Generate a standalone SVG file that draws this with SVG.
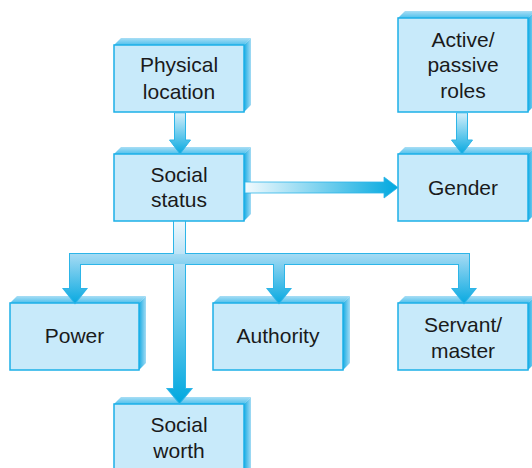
<svg xmlns="http://www.w3.org/2000/svg" width="532" height="468" viewBox="0 0 532 468">
<defs>
<linearGradient id="gTop" x1="0" y1="1" x2="0" y2="0"><stop offset="0" stop-color="#4fc0ec"/><stop offset="1" stop-color="#a9def5"/></linearGradient>
<linearGradient id="gSide" x1="0" y1="0" x2="1" y2="0"><stop offset="0" stop-color="#19ace3"/><stop offset="1" stop-color="#a3dbf4"/></linearGradient>
<linearGradient id="gV1" gradientUnits="userSpaceOnUse" x1="0" y1="112" x2="0" y2="154"><stop offset="0" stop-color="#d8f0fb"/><stop offset="1" stop-color="#08a9e0"/></linearGradient>
<linearGradient id="gH" gradientUnits="userSpaceOnUse" x1="245" y1="0" x2="398" y2="0"><stop offset="0" stop-color="#f2fafe"/><stop offset="1" stop-color="#00a8df"/></linearGradient>
<linearGradient id="gTrunk" gradientUnits="userSpaceOnUse" x1="0" y1="221" x2="0" y2="403"><stop offset="0" stop-color="#eef8fd"/><stop offset="0.2" stop-color="#b8e2f6"/><stop offset="1" stop-color="#00a8df"/></linearGradient>
<linearGradient id="gBr" gradientUnits="userSpaceOnUse" x1="0" y1="254" x2="0" y2="303"><stop offset="0" stop-color="#a6dbf4"/><stop offset="1" stop-color="#0aaae1"/></linearGradient>
<style>
.front{fill:#c8eafa;stroke:#1db0e7;stroke-width:1.5}
.top{fill:url(#gTop)}
.side{fill:url(#gSide)}
.t{font-family:"Liberation Sans",Arial,sans-serif;font-size:21px;fill:#1a1a1a;text-anchor:middle}
.cs{stroke:#2db5e8;stroke-width:2;stroke-linejoin:miter}
</style>
</defs>

<g id="physical-location">
<polygon class="top" points="114,45 121,38 251,38 244,45"/>
<polygon class="side" points="244,45 251,38 251,105 244,112"/>
<rect class="front" x="114" y="45" width="130" height="67"/>
<text class="t" x="179" y="72">Physical</text>
<text class="t" x="179" y="99">location</text>
</g>

<g id="social-status">
<polygon class="top" points="114,154 121,147 251,147 244,154"/>
<polygon class="side" points="244,154 251,147 251,214 244,221"/>
<rect class="front" x="114" y="154" width="130" height="67"/>
<text class="t" x="179" y="182">Social</text>
<text class="t" x="179" y="207">status</text>
</g>

<g id="active-passive-roles">
<polygon class="top" points="398,18 405,11 535,11 528,18"/>
<polygon class="side" points="528,18 535,11 535,105 528,112"/>
<rect class="front" x="398" y="18" width="130" height="94"/>
<text class="t" x="463" y="47">Active/</text>
<text class="t" x="463" y="72">passive</text>
<text class="t" x="463" y="98">roles</text>
</g>

<g id="gender">
<polygon class="top" points="398,154 405,147 535,147 528,154"/>
<polygon class="side" points="528,154 535,147 535,214 528,221"/>
<rect class="front" x="398" y="154" width="130" height="67"/>
<text class="t" x="463" y="195">Gender</text>
</g>

<g id="power">
<polygon class="top" points="10,303 17,296 146,296 139,303"/>
<polygon class="side" points="139,303 146,296 146,363 139,370"/>
<rect class="front" x="10" y="303" width="129" height="67"/>
<text class="t" x="74.5" y="343">Power</text>
</g>

<g id="authority">
<polygon class="top" points="213,303 220,296 350,296 343,303"/>
<polygon class="side" points="343,303 350,296 350,363 343,370"/>
<rect class="front" x="213" y="303" width="130" height="67"/>
<text class="t" x="278" y="343">Authority</text>
</g>

<g id="servant-master">
<polygon class="top" points="398,303 405,296 535,296 528,303"/>
<polygon class="side" points="528,303 535,296 535,363 528,370"/>
<rect class="front" x="398" y="303" width="130" height="67"/>
<text class="t" x="463" y="332">Servant/</text>
<text class="t" x="463" y="358">master</text>
</g>

<g id="social-worth">
<polygon class="top" points="114,404 121,397 251,397 244,404"/>
<polygon class="side" points="244,404 251,397 251,470 244,477"/>
<rect class="front" x="114" y="404" width="130" height="70"/>
<text class="t" x="179" y="432">Social</text>
<text class="t" x="179" y="458">worth</text>
</g>

<g id="connectors">
<path d="M174.5,112.8 V140 H169.5 L180,154 L190.5,140 H185.5 V112.8 Z" fill="url(#gV1)" stroke="#2db5e8" stroke-width="1"/>
<path d="M456.5,112.8 V140 H451.5 L462,154 L472.5,140 H467.5 V112.8 Z" fill="url(#gV1)" stroke="#2db5e8" stroke-width="1"/>
<path d="M245,182 H384 V177 L398,187.5 L384,198 V193 H245 Z" fill="url(#gH)" stroke="#2db5e8" stroke-width="0.8"/>
<path class="cs" fill="none" d="M174,221.8 V389 H168 L179.5,403 L191,389 H185 V221.8 Z"/>
<path class="cs" fill="none" d="M70,254 H469 V289 H475 L464,303 L453,289 H459 V264 H284 V289 H290 L279,303 L268,289 H274 V264 H80 V289 H86 L75,303 L64,289 H70 Z"/>
<path fill="url(#gTrunk)" d="M174,221.8 V389 H168 L179.5,403 L191,389 H185 V221.8 Z"/>
<path fill="url(#gBr)" d="M70,254 H469 V289 H475 L464,303 L453,289 H459 V264 H284 V289 H290 L279,303 L268,289 H274 V264 H80 V289 H86 L75,303 L64,289 H70 Z"/>
</g>
</svg>
